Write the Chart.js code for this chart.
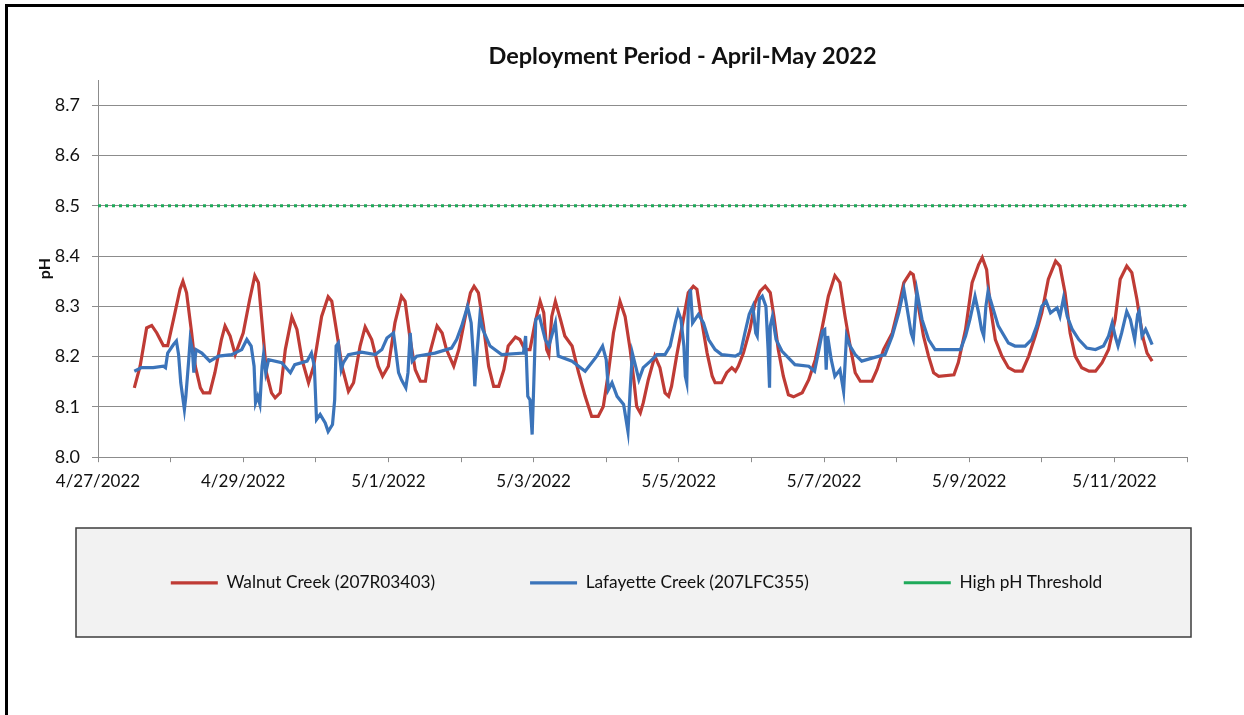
<!DOCTYPE html>
<html>
<head>
<meta charset="utf-8">
<title>Deployment Period - April-May 2022</title>
<script src="https://cdn.jsdelivr.net/npm/chart.js@4.4.0/dist/chart.umd.min.js"></script>
<style>
  html, body { margin: 0; padding: 0; background: #fff; }
  #wrap { width: 1244px; height: 715px; position: relative; }
</style>
</head>
<body>
<div id="wrap"><canvas id="phChart" width="1244" height="715"></canvas></div>
<script>
// x values are days since 4/27/2022 00:00
const dateLabels = ['4/27/2022', '4/29/2022', '5/1/2022', '5/3/2022', '5/5/2022', '5/7/2022', '5/9/2022', '5/11/2022'];
const yTicks = [8.0, 8.1, 8.2, 8.3, 8.4, 8.5, 8.6, 8.7];
const seriesNames = ['Walnut Creek (207R03403)', 'Lafayette Creek (207LFC355)', 'High pH Threshold'];

const walnutDay = [
  0.50, 0.58, 0.67, 0.74, 0.81, 0.90, 0.96, 1.04, 1.13, 1.17, 1.22, 1.29, 1.34, 1.41, 1.45, 1.54, 1.61, 1.70, 1.75, 1.82,
  1.89, 2.00, 2.09, 2.16, 2.21, 2.26, 2.32, 2.39, 2.44, 2.51, 2.58, 2.67, 2.74, 2.81, 2.90, 2.97, 3.08, 3.17, 3.22, 3.29,
  3.36, 3.45, 3.52, 3.61, 3.68, 3.77, 3.86, 3.92, 4.00, 4.09, 4.18, 4.23, 4.30, 4.37, 4.44, 4.51, 4.57, 4.67, 4.74, 4.80,
  4.90, 4.97, 5.06, 5.13, 5.18, 5.24, 5.31, 5.38, 5.45, 5.52, 5.59, 5.65, 5.75, 5.81, 5.88, 5.95, 6.02, 6.09, 6.14, 6.18,
  6.21, 6.25, 6.30, 6.37, 6.43, 6.53, 6.62, 6.71, 6.80, 6.89, 6.96, 7.03, 7.10, 7.19, 7.26, 7.33, 7.38, 7.42, 7.47, 7.51,
  7.58, 7.67, 7.74, 7.81, 7.86, 7.90, 7.97, 8.07, 8.13, 8.20, 8.25, 8.32, 8.39, 8.46, 8.50, 8.59, 8.66, 8.73, 8.78, 8.82,
  8.89, 8.98, 9.05, 9.12, 9.19, 9.26, 9.31, 9.37, 9.44, 9.51, 9.58, 9.70, 9.79, 9.88, 9.97, 10.06, 10.15, 10.22, 10.29, 10.36,
  10.43, 10.50, 10.66, 10.73, 10.82, 10.94, 11.03, 11.10, 11.19, 11.23, 11.30, 11.37, 11.44, 11.51, 11.58, 11.79, 11.85, 11.95, 12.04, 12.13,
  12.18, 12.24, 12.29, 12.36, 12.45, 12.54, 12.63, 12.73, 12.82, 12.91, 13.00, 13.09, 13.19, 13.25, 13.32, 13.39, 13.46, 13.55, 13.65, 13.74,
  13.83, 13.92, 14.01, 14.08, 14.17, 14.24, 14.31, 14.36, 14.40, 14.45, 14.52
];
const walnutPH = [
  8.138, 8.181, 8.257, 8.262, 8.247, 8.222, 8.222, 8.274, 8.334, 8.350, 8.327, 8.247, 8.181, 8.138, 8.128, 8.128, 8.168, 8.234, 8.261, 8.241,
  8.204, 8.247, 8.314, 8.361, 8.347, 8.267, 8.168, 8.128, 8.118, 8.128, 8.214, 8.279, 8.254, 8.194, 8.148, 8.181, 8.280, 8.319, 8.310, 8.247,
  8.181, 8.131, 8.148, 8.221, 8.259, 8.234, 8.181, 8.161, 8.181, 8.267, 8.320, 8.310, 8.234, 8.174, 8.151, 8.151, 8.207, 8.261, 8.247, 8.214,
  8.181, 8.214, 8.280, 8.327, 8.340, 8.327, 8.261, 8.181, 8.141, 8.141, 8.174, 8.221, 8.239, 8.234, 8.214, 8.214, 8.267, 8.310, 8.287, 8.214,
  8.204, 8.280, 8.310, 8.274, 8.241, 8.221, 8.168, 8.121, 8.081, 8.081, 8.101, 8.168, 8.247, 8.310, 8.280, 8.214, 8.154, 8.101, 8.088, 8.108,
  8.154, 8.201, 8.178, 8.128, 8.121, 8.141, 8.201, 8.280, 8.327, 8.340, 8.334, 8.267, 8.207, 8.161, 8.148, 8.148, 8.168, 8.178, 8.171, 8.181,
  8.207, 8.254, 8.307, 8.330, 8.340, 8.327, 8.280, 8.214, 8.161, 8.124, 8.120, 8.128, 8.154, 8.194, 8.254, 8.320, 8.361, 8.347, 8.280, 8.221,
  8.168, 8.151, 8.151, 8.174, 8.214, 8.247, 8.300, 8.347, 8.367, 8.363, 8.300, 8.241, 8.201, 8.168, 8.161, 8.164, 8.188, 8.254, 8.347, 8.383,
  8.397, 8.373, 8.300, 8.234, 8.201, 8.178, 8.171, 8.171, 8.201, 8.241, 8.287, 8.354, 8.390, 8.380, 8.327, 8.247, 8.201, 8.178, 8.171, 8.171,
  8.188, 8.214, 8.274, 8.354, 8.380, 8.367, 8.314, 8.267, 8.234, 8.207, 8.191
];

const lafayetteDay = [
  0.50, 0.60, 0.76, 0.90, 0.93, 0.96, 1.04, 1.08, 1.11, 1.14, 1.19, 1.21, 1.25, 1.27, 1.30, 1.32, 1.35, 1.43, 1.54, 1.66,
  1.84, 1.98, 2.05, 2.11, 2.15, 2.17, 2.20, 2.23, 2.26, 2.28, 2.31, 2.35, 2.53, 2.65, 2.71, 2.88, 2.94, 2.98, 3.01, 3.06,
  3.13, 3.17, 3.23, 3.26, 3.28, 3.31, 3.35, 3.38, 3.45, 3.63, 3.82, 3.91, 3.98, 4.07, 4.10, 4.14, 4.18, 4.24, 4.27, 4.30,
  4.33, 4.39, 4.64, 4.87, 4.94, 5.01, 5.09, 5.14, 5.17, 5.19, 5.22, 5.26, 5.30, 5.40, 5.56, 5.86, 5.89, 5.92, 5.95, 5.98,
  6.00, 6.03, 6.08, 6.16, 6.21, 6.30, 6.34, 6.53, 6.71, 6.87, 6.95, 7.00, 7.03, 7.08, 7.15, 7.24, 7.30, 7.33, 7.36, 7.41,
  7.45, 7.51, 7.61, 7.70, 7.81, 7.88, 7.95, 7.99, 8.03, 8.07, 8.09, 8.11, 8.13, 8.16, 8.19, 8.27, 8.34, 8.41, 8.50, 8.59,
  8.78, 8.85, 8.91, 8.97, 9.02, 9.06, 9.08, 9.11, 9.15, 9.20, 9.23, 9.25, 9.26, 9.29, 9.34, 9.42, 9.60, 9.79, 9.87, 9.93,
  9.98, 10.01, 10.03, 10.05, 10.10, 10.15, 10.22, 10.27, 10.31, 10.36, 10.43, 10.52, 10.66, 10.84, 10.94, 11.03, 11.10, 11.14, 11.20, 11.23,
  11.28, 11.35, 11.44, 11.53, 11.67, 11.88, 11.95, 12.01, 12.08, 12.13, 12.17, 12.20, 12.23, 12.26, 12.29, 12.40, 12.54, 12.63, 12.77, 12.86,
  12.93, 13.00, 13.06, 13.12, 13.21, 13.25, 13.30, 13.35, 13.42, 13.51, 13.62, 13.74, 13.85, 13.92, 13.97, 14.01, 14.05, 14.10, 14.17, 14.22,
  14.28, 14.32, 14.34, 14.38, 14.43, 14.47, 14.52
];
const lafayettePH = [
  8.171, 8.178, 8.178, 8.181, 8.178, 8.207, 8.224, 8.231, 8.204, 8.148, 8.095, 8.121, 8.194, 8.234, 8.214, 8.168, 8.214, 8.207, 8.191, 8.201,
  8.204, 8.214, 8.234, 8.221, 8.181, 8.108, 8.121, 8.105, 8.181, 8.204, 8.168, 8.194, 8.188, 8.168, 8.184, 8.191, 8.207, 8.181, 8.075, 8.085,
  8.068, 8.051, 8.065, 8.114, 8.221, 8.227, 8.174, 8.188, 8.204, 8.209, 8.204, 8.214, 8.237, 8.247, 8.214, 8.168, 8.154, 8.138, 8.168, 8.247,
  8.191, 8.201, 8.207, 8.217, 8.234, 8.261, 8.300, 8.267, 8.201, 8.141, 8.207, 8.280, 8.254, 8.221, 8.204, 8.207, 8.241, 8.121, 8.114, 8.045,
  8.134, 8.274, 8.280, 8.234, 8.221, 8.267, 8.201, 8.191, 8.171, 8.201, 8.221, 8.194, 8.134, 8.148, 8.121, 8.105, 8.051, 8.134, 8.207, 8.178,
  8.154, 8.178, 8.191, 8.204, 8.204, 8.221, 8.267, 8.290, 8.274, 8.221, 8.161, 8.148, 8.300, 8.334, 8.267, 8.284, 8.267, 8.234, 8.214, 8.204,
  8.201, 8.207, 8.247, 8.284, 8.300, 8.247, 8.241, 8.314, 8.320, 8.300, 8.214, 8.138, 8.261, 8.280, 8.234, 8.211, 8.184, 8.181, 8.171, 8.214,
  8.251, 8.254, 8.174, 8.241, 8.194, 8.161, 8.174, 8.131, 8.241, 8.221, 8.204, 8.191, 8.197, 8.204, 8.241, 8.287, 8.334, 8.300, 8.247, 8.234,
  8.330, 8.274, 8.234, 8.214, 8.214, 8.214, 8.241, 8.274, 8.320, 8.287, 8.254, 8.241, 8.300, 8.330, 8.314, 8.261, 8.227, 8.221, 8.221, 8.234,
  8.261, 8.300, 8.310, 8.287, 8.297, 8.280, 8.317, 8.280, 8.254, 8.234, 8.217, 8.214, 8.221, 8.241, 8.267, 8.241, 8.221, 8.247, 8.290, 8.274,
  8.234, 8.284, 8.290, 8.241, 8.254, 8.241, 8.224
];

const thresholdDay = [0, 15];
const thresholdPH = [8.5, 8.5];

function toPoints(xs, ys) {
  return xs.map((x, i) => ({ x: x, y: ys[i] }));
}

Chart.defaults.font.family = 'Lato, "Open Sans", sans-serif';
Chart.defaults.color = '#111';

// outer frame + grey legend panel
const framePlugin = {
  id: 'framePlugin',
  beforeDraw(chart) {
    const ctx = chart.ctx;
    ctx.save();
    ctx.fillStyle = '#ffffff';
    ctx.fillRect(0, 0, chart.width, chart.height);
    ctx.strokeStyle = '#000';
    ctx.lineWidth = 3;
    ctx.beginPath();
    ctx.moveTo(6.5, chart.height);
    ctx.lineTo(6.5, 5.5);
    ctx.lineTo(chart.width, 5.5);
    ctx.stroke();
    ctx.fillStyle = '#f2f2f2';
    ctx.fillRect(76, 528, 1115, 109);
    ctx.strokeStyle = '#3c3c3c';
    ctx.lineWidth = 1.5;
    ctx.strokeRect(76, 528, 1115, 109);
    ctx.restore();
  }
};

// nudge title and legend like the original layout
const shiftPlugin = {
  id: 'shiftPlugin',
  afterLayout(chart) {
    const t = chart.titleBlock;
    t.left += 74; t.right += 74;
    const l = chart.legend;
    l.left += 28; l.right += 28;
    l.top -= 18; l.bottom -= 18;
  }
};

new Chart(document.getElementById('phChart'), {
  type: 'line',
  data: {
    datasets: [
      {
        label: seriesNames[0],
        data: toPoints(walnutDay, walnutPH),
        borderColor: '#bf3b35',
        backgroundColor: '#bf3b35',
        borderWidth: 3.2,
        pointRadius: 0,
        tension: 0,
        order: 1
      },
      {
        label: seriesNames[1],
        data: toPoints(lafayetteDay, lafayettePH),
        borderColor: '#3b74ba',
        backgroundColor: '#3b74ba',
        borderWidth: 3.2,
        pointRadius: 0,
        tension: 0,
        order: 0
      },
      {
        label: seriesNames[2],
        data: toPoints(thresholdDay, thresholdPH),
        borderColor: '#1faa5a',
        backgroundColor: '#1faa5a',
        borderWidth: 3,
        borderDash: [3, 4],
        pointRadius: 0,
        tension: 0,
        order: 2
      }
    ]
  },
  options: {
    responsive: false,
    animation: false,
    events: [],
    layout: { padding: { top: 42, left: 30, right: 57, bottom: 95.5 } },
    plugins: {
      title: {
        display: true,
        text: 'Deployment Period - April-May 2022',
        color: '#111',
        font: { size: 23.5, weight: 'bold' },
        padding: { top: 0, bottom: 9.8 }
      },
      legend: {
        position: 'bottom',
        labels: {
          usePointStyle: true,
          pointStyle: 'line',
          pointStyleWidth: 47,
          padding: 95,
          color: '#111',
          font: { size: 17.3 },
          sort: (a, b) => a.datasetIndex - b.datasetIndex
        }
      },
      tooltip: { enabled: false }
    },
    scales: {
      x: {
        type: 'linear',
        min: 0,
        max: 15,
        afterFit(scale) { scale.height = 40; },
        ticks: {
          stepSize: 1,
          autoSkip: false,
          maxRotation: 0,
          padding: 9,
          font: { size: 17 },
          callback: (v) => (v % 2 === 0 ? dateLabels[v / 2] : '')
        },
        grid: { drawOnChartArea: false, tickLength: 5, color: '#8c8c8c' },
        border: { color: '#8c8c8c', width: 1 }
      },
      y: {
        min: 8.0,
        max: 8.75,
        afterFit(scale) { scale.width = 68; },
        afterBuildTicks(scale) { scale.ticks = yTicks.map(v => ({ value: v })); },
        title: {
          display: true,
          text: 'pH',
          color: '#111',
          font: { size: 16, weight: 'bold' },
          padding: { top: 5, bottom: 0 }
        },
        ticks: {
          padding: 12,
          font: { size: 18 },
          callback: (v) => Number(v).toFixed(1)
        },
        grid: { color: '#8c8c8c', tickLength: 6 },
        border: { color: '#8c8c8c', width: 1 }
      }
    }
  },
  plugins: [framePlugin, shiftPlugin]
});
</script>
</body>
</html>
